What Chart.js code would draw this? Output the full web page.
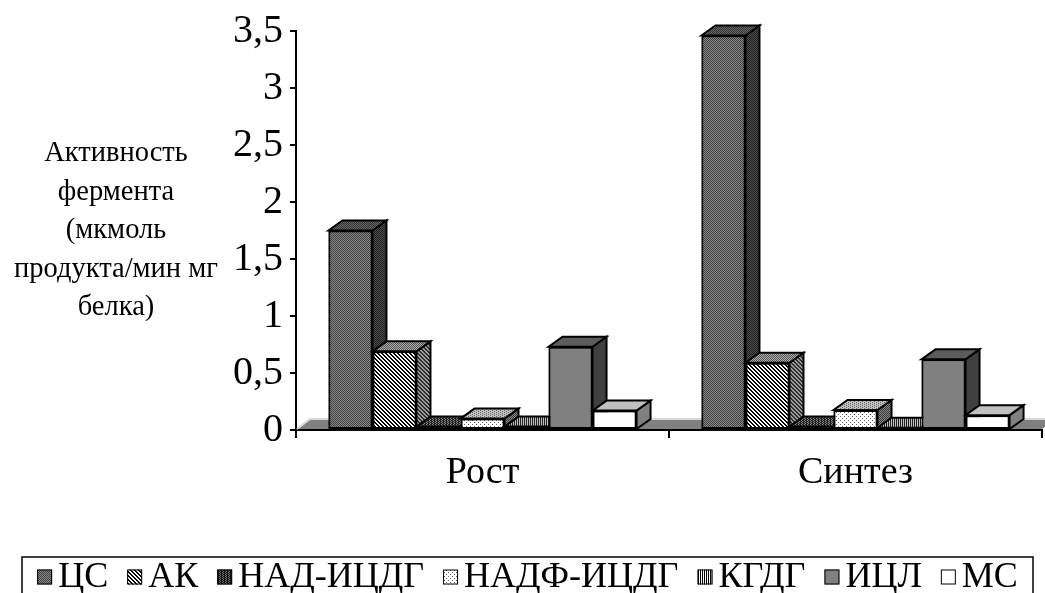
<!DOCTYPE html>
<html lang="ru">
<head>
<meta charset="utf-8">
<title>Активность ферментов</title>
<script src="https://cdn.jsdelivr.net/npm/chart.js@4/dist/chart.umd.min.js"></script>
<style>
	html, body { margin: 0; padding: 0; background: #fff; }
	canvas { display: block; }
</style>
</head>
<body>
<canvas id="chart" width="1045" height="593"></canvas>
<script>
const categories = ['Рост', 'Синтез'];
const seriesNames = ['ЦС', 'АК', 'НАД-ИЦДГ', 'НАДФ-ИЦДГ', 'КГДГ', 'ИЦЛ', 'МС'];

const csValues = [1.75, 3.46];
const akValues = [0.69, 0.59];
const nadValues = [0.03, 0.03];
const nadpValues = [0.1, 0.175];
const kgdgValues = [0.03, 0.02];
const iclValues = [0.73, 0.62];
const msValues = [0.17, 0.13];

const yTicks = [0, 0.5, 1, 1.5, 2, 2.5, 3, 3.5];
const axisTitleLines = ['Активность', 'фермента', '(мкмоль', 'продукта/мин мг', 'белка)'];

const FONT = "'Liberation Serif', 'Times New Roman', serif";
const DEPTH_X = 14;
const DEPTH_Y = -10;

const canvas = document.getElementById('chart');
const ctx = canvas.getContext('2d');

// small repeating tiles for the hatched fills
function makePattern(w, h, paint) {
	const tile = document.createElement('canvas');
	tile.width = w;
	tile.height = h;
	paint(tile.getContext('2d'));
	return ctx.createPattern(tile, 'repeat');
}

function checker(a, b) {
	return makePattern(2, 2, (t) => {
		t.fillStyle = a;
		t.fillRect(0, 0, 2, 2);
		t.fillStyle = b;
		t.fillRect(0, 0, 1, 1);
		t.fillRect(1, 1, 1, 1);
	});
}

function diagonal(bg, fg) {
	return makePattern(4, 4, (t) => {
		t.fillStyle = bg;
		t.fillRect(0, 0, 4, 4);
		t.fillStyle = fg;
		for (let i = 0; i < 4; i++) {
			t.fillRect(i, i, 1, 1);
			t.fillRect((i + 1) % 4, i, 1, 1);
		}
	});
}

function dots(bg, fg, w, h) {
	return makePattern(w, h, (t) => {
		t.fillStyle = bg;
		t.fillRect(0, 0, w, h);
		t.fillStyle = fg;
		t.fillRect(0, 0, 1, 1);
		t.fillRect(Math.floor(w / 2), Math.floor(h / 2), 1, 1);
	});
}

function stripes(a, b) {
	return makePattern(2, 1, (t) => {
		t.fillStyle = a;
		t.fillRect(0, 0, 2, 1);
		t.fillStyle = b;
		t.fillRect(1, 0, 1, 1);
	});
}

const faces = [
	{ front: checker('#8c8c8c', '#3c3c3c'), side: checker('#4c4c4c', '#202020'), top: checker('#666666', '#333333') },
	{ front: diagonal('#ffffff', '#000000'), side: diagonal('#9a9a9a', '#303030'), top: dots('#b0b0b0', '#505050', 2, 2) },
	{ front: dots('#111111', '#777777', 3, 2), side: dots('#111111', '#555555', 3, 2), top: dots('#222222', '#888888', 3, 2) },
	{ front: dots('#ffffff', '#666666', 4, 4), side: dots('#8a8a8a', '#333333', 2, 2), top: dots('#c0c0c0', '#666666', 4, 2) },
	{ front: stripes('#000000', '#ffffff'), side: stripes('#000000', '#808080'), top: stripes('#202020', '#c0c0c0') },
	{ front: '#808080', side: '#404040', top: '#5c5c5c' },
	{ front: '#ffffff', side: '#808080', top: '#c0c0c0' },
];

const seriesValues = [csValues, akValues, nadValues, nadpValues, kgdgValues, iclValues, msValues];

const datasets = seriesNames.map((name, i) => ({
	label: name,
	data: seriesValues[i],
	backgroundColor: faces[i].front,
	borderColor: '#000000',
	borderWidth: 2,
	borderSkipped: false,
	barPercentage: 1,
	categoryPercentage: 0.826,
}));

function polygon(c, points, fill) {
	c.beginPath();
	c.moveTo(points[0][0], points[0][1]);
	points.slice(1).forEach((p) => c.lineTo(p[0], p[1]));
	c.closePath();
	c.fillStyle = fill;
	c.fill();
	c.stroke();
}

// grey floor strip along the category axis
const floorPlugin = {
	id: 'floor3d',
	beforeDatasetsDraw(chart) {
		const { chartArea } = chart;
		const c = chart.ctx;
		const base = chart.scales.y.getPixelForValue(0);
		c.save();
		c.beginPath();
		c.moveTo(chartArea.left, base - 1);
		c.lineTo(chartArea.right, base - 1);
		c.lineTo(chartArea.right + DEPTH_X, base + DEPTH_Y);
		c.lineTo(chartArea.left + DEPTH_X, base + DEPTH_Y);
		c.closePath();
		c.fillStyle = '#808080';
		c.fill();
		c.beginPath();
		c.moveTo(chartArea.left + 1, base - 1);
		c.lineTo(chartArea.left + DEPTH_X, base + DEPTH_Y - 1);
		c.lineTo(chartArea.right + DEPTH_X + 20, base + DEPTH_Y - 1);
		c.strokeStyle = '#d8d8d8';
		c.lineWidth = 2;
		c.stroke();
		c.restore();
	},
};

// redraws every column left to right, adding side and top faces
const columnsPlugin = {
	id: 'columns3d',
	afterDatasetsDraw(chart) {
		const c = chart.ctx;
		c.save();
		c.lineJoin = 'miter';
		for (let j = 0; j < categories.length; j++) {
			chart.data.datasets.forEach((ds, i) => {
				const bar = chart.getDatasetMeta(i).data[j];
				bar.draw(c);
				const { x, y, base, width } = bar.getProps(['x', 'y', 'base', 'width'], true);
				const left = x - width / 2;
				const right = x + width / 2;
				c.lineWidth = 2;
				c.strokeStyle = '#000000';
				polygon(c, [[right, y], [right + DEPTH_X, y + DEPTH_Y], [right + DEPTH_X, base + DEPTH_Y], [right, base]], faces[i].side);
				polygon(c, [[left, y], [left + DEPTH_X, y + DEPTH_Y], [right + DEPTH_X, y + DEPTH_Y], [right, y]], faces[i].top);
			});
		}
		c.restore();
	},
};

// horizontal multi-line title left of the value axis
const axisTitlePlugin = {
	id: 'axisTitle',
	afterDraw(chart) {
		const c = chart.ctx;
		c.save();
		c.font = `28.5px ${FONT}`;
		c.fillStyle = '#000000';
		c.textAlign = 'center';
		c.textBaseline = 'middle';
		axisTitleLines.forEach((line, k) => {
			c.fillText(line, 116, 154 + k * 38.5);
		});
		c.restore();
	},
};

// boxed legend row under the chart
const legendPlugin = {
	id: 'boxLegend',
	afterDraw(chart) {
		const c = chart.ctx;
		const box = { left: 22, top: 557, right: 1033, bottom: 600 };
		const swatch = 15;
		const gap = 6;
		const itemGap = 19;
		c.save();
		c.font = `36px ${FONT}`;
		const widths = seriesNames.map((name) => swatch + gap + c.measureText(name).width);
		const total = widths.reduce((a, b) => a + b, 0) + itemGap * (widths.length - 1);
		let cx = (box.left + box.right) / 2 - total / 2;
		const cy = 577;

		c.lineWidth = 1.5;
		c.strokeStyle = '#000000';
		c.strokeRect(box.left, box.top, box.right - box.left, box.bottom - box.top);

		c.textBaseline = 'middle';
		c.textAlign = 'left';
		seriesNames.forEach((name, i) => {
			c.fillStyle = faces[i].front;
			c.fillRect(cx, cy - swatch / 2, swatch, swatch);
			c.lineWidth = 1;
			c.strokeRect(cx + 0.5, cy - swatch / 2 + 0.5, swatch - 1, swatch - 1);
			c.fillStyle = '#000000';
			c.fillText(name, cx + swatch + gap, cy + 1);
			cx += widths[i] + itemGap;
		});
		c.restore();
	},
};

new Chart(canvas, {
	type: 'bar',
	data: {
		labels: categories,
		datasets,
	},
	options: {
		responsive: false,
		animation: false,
		devicePixelRatio: 1,
		layout: {
			padding: { left: 216, top: 30, right: 3, bottom: 93 },
		},
		plugins: {
			legend: { display: false },
			tooltip: { enabled: false },
		},
		scales: {
			x: {
				clip: false,
				afterFit: (scale) => { scale.height = 70; },
				grid: {
					drawOnChartArea: false,
					color: '#000000',
					lineWidth: 2,
					tickLength: 8,
				},
				border: { color: '#000000', width: 2 },
				ticks: {
					color: '#000000',
					padding: 12,
					font: { family: FONT, size: 38 },
				},
			},
			y: {
				min: 0,
				max: 3.5,
				afterFit: (scale) => { scale.width = 80; },
				afterBuildTicks: (scale) => {
					scale.ticks = yTicks.map((v) => ({ value: v }));
				},
				grid: {
					drawOnChartArea: false,
					color: '#000000',
					lineWidth: 2,
					tickLength: 6,
				},
				border: { color: '#000000', width: 2 },
				ticks: {
					color: '#000000',
					padding: 7,
					font: { family: FONT, size: 40 },
					callback: (value) => String(value).replace('.', ','),
				},
			},
		},
	},
	plugins: [floorPlugin, columnsPlugin, axisTitlePlugin, legendPlugin],
});
</script>
</body>
</html>
